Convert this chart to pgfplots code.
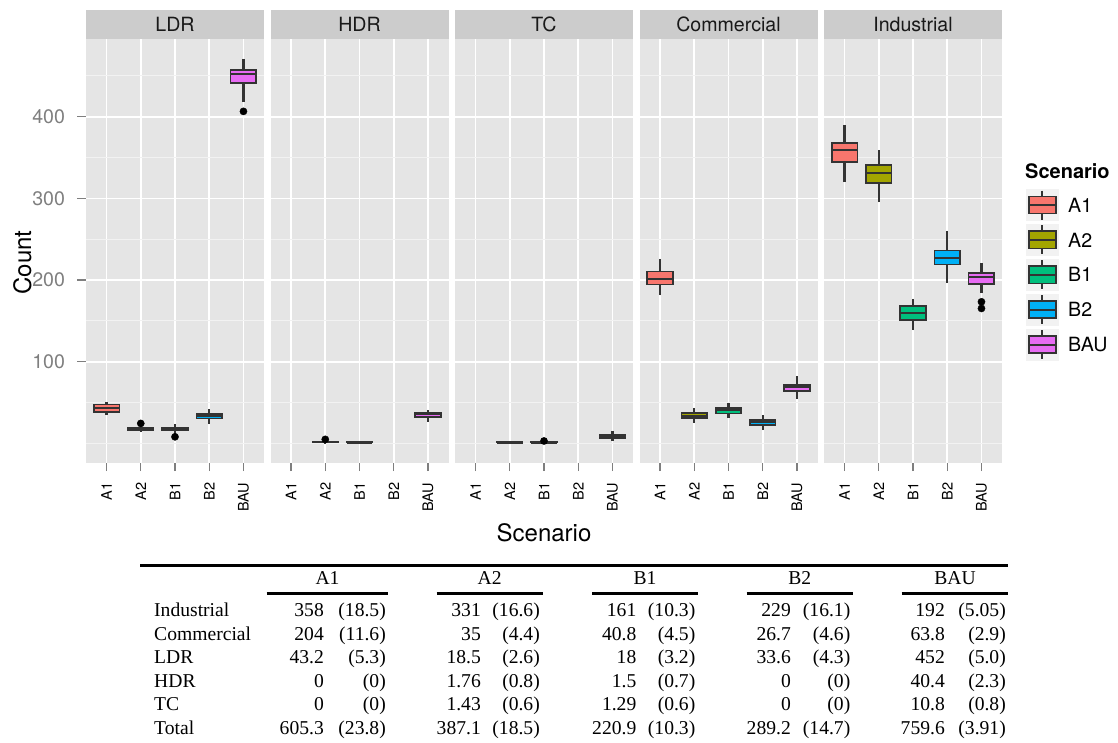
\documentclass[border=0pt]{standalone}
\usepackage{fontspec}
\setmainfont{TeX Gyre Heros}
\newfontfamily\tabfont{Liberation Serif}
\usepackage{pgfplots}
\pgfplotsset{compat=1.18}
\usepgfplotslibrary{statistics}
\definecolor{cA1}{HTML}{F8766D}
\definecolor{cA2}{HTML}{A3A500}
\definecolor{cB1}{HTML}{00BF7D}
\definecolor{cB2}{HTML}{00B0F6}
\definecolor{cBAU}{HTML}{E76BF3}
\definecolor{boxline}{HTML}{333333}
\definecolor{panelbg}{HTML}{E5E5E5}
\definecolor{stripbg}{HTML}{CCCCCC}
\definecolor{gridminor}{HTML}{F2F2F2}
\definecolor{tickgray}{HTML}{7F7F7F}
\definecolor{keybg}{HTML}{F2F2F2}
\newcommand{\bigsz}{\fontsize{19.6}{22}\selectfont}
\newcommand{\ttlsz}{\fontsize{24}{26}\selectfont}
\pgfplotsset{
  panel/.style={
    scale only axis, width=178pt, height=423.7pt,
    xmin=0.4, xmax=5.6, ymin=-23.6, ymax=495.2,
    axis background/.style={fill=panelbg},
    axis line style={draw=none},
    xtick={1,2,3,4,5}, xticklabels={A1,A2,B1,B2,BAU},
    ytick={100,200,300,400}, minor ytick={0,50,150,250,350,450},
    xmajorgrids, ymajorgrids, yminorgrids,
    major grid style={draw=white, line width=1.7pt},
    minor grid style={draw=gridminor, line width=0.9pt},
    xtick pos=bottom, ytick pos=left,
    tick align=outside, major tick length=8.5pt, minor tick length=0pt,
    tick style={draw=tickgray, line width=1.3pt},
    xticklabel style={yshift=-8pt, rotate=90, anchor=east, font=\fontsize{14.5}{15}\selectfont, text=black},
    /pgf/number format/assume math mode=true,
    yticklabel style={xshift=-9pt, font=\bigsz, text=tickgray},
    boxplot/draw direction=y,
    boxplot/box extend=0.75, boxplot/whisker extend=0,
    boxplot/every median/.style={draw=boxline, line width=1.9pt},
    boxplot/every whisker/.style={draw=boxline, line width=2.2pt},
    boxplot/every box/.style={draw=boxline, line width=1.7pt},
    clip=false,
  },
  noy/.style={yticklabels={}, ytick style={draw=none}},
  bx/.style={draw=boxline, line width=1.7pt, solid, mark=none},
  outl/.style={only marks, mark=*, mark size=3.6pt, mark options={draw=black, fill=black}},
}
\begin{document}
\begin{tikzpicture}
\useasboundingbox (0pt,0pt) rectangle (1118pt,-742pt);

% ---------- LDR ----------
\begin{axis}[panel, at={(86pt,-462.7pt)}, anchor=south west]
\addplot[bx, fill=cA1, boxplot prepared={draw position=1, lower whisker=34.3, lower quartile=38.3, median=42.9, upper quartile=47.8, upper whisker=50.9}] coordinates {};
\addplot[bx, fill=cA2, boxplot prepared={draw position=2, lower whisker=14, lower quartile=16.3, median=18, upper quartile=19.6, upper whisker=22.5}] coordinates {};
\addplot[outl] coordinates {(2,24.5)};
\addplot[bx, fill=cB1, boxplot prepared={draw position=3, lower whisker=12, lower quartile=16, median=18, upper quartile=19.5, upper whisker=23.3}] coordinates {};
\addplot[outl] coordinates {(3,8.1)};
\addplot[bx, fill=cB2, boxplot prepared={draw position=4, lower whisker=23.6, lower quartile=30.4, median=33.1, upper quartile=35.7, upper whisker=42}] coordinates {};
\addplot[bx, fill=cBAU, boxplot prepared={draw position=5, lower whisker=418.4, lower quartile=441.4, median=452.3, upper quartile=457.4, upper whisker=471}] coordinates {};
\addplot[outl] coordinates {(5,406.6)};
\end{axis}

% ---------- HDR ----------
\begin{axis}[panel, noy, at={(270.5pt,-462.7pt)}, anchor=south west]
\addplot[bx, fill=cA2, boxplot prepared={draw position=2, lower whisker=0, lower quartile=1, median=2, upper quartile=2, upper whisker=3}] coordinates {};
\addplot[outl] coordinates {(2,5)};
\addplot[bx, fill=cB1, boxplot prepared={draw position=3, lower whisker=0, lower quartile=1, median=1, upper quartile=2, upper whisker=3}] coordinates {};
\addplot[bx, fill=cBAU, boxplot prepared={draw position=5, lower whisker=26.5, lower quartile=32, median=35.5, upper quartile=37, upper whisker=41.2}] coordinates {};
\end{axis}

% ---------- TC ----------
\begin{axis}[panel, noy, at={(455pt,-462.7pt)}, anchor=south west]
\addplot[bx, fill=cA2, boxplot prepared={draw position=2, lower whisker=0, lower quartile=1, median=1, upper quartile=2, upper whisker=3}] coordinates {};
\addplot[bx, fill=cB1, boxplot prepared={draw position=3, lower whisker=0, lower quartile=1, median=1, upper quartile=2, upper whisker=2}] coordinates {};
\addplot[outl] coordinates {(3,3)};
\addplot[bx, fill=cBAU, boxplot prepared={draw position=5, lower whisker=3.2, lower quartile=6.3, median=8.6, upper quartile=10.4, upper whisker=15.1}] coordinates {};
\end{axis}

% ---------- Commercial ----------
\begin{axis}[panel, noy, at={(639.5pt,-462.7pt)}, anchor=south west]
\addplot[bx, fill=cA1, boxplot prepared={draw position=1, lower whisker=181.3, lower quartile=194.5, median=201.6, upper quartile=210.4, upper whisker=226.1}] coordinates {};
\addplot[bx, fill=cA2, boxplot prepared={draw position=2, lower whisker=25.2, lower quartile=30.8, median=33.8, upper quartile=37, upper whisker=43.6}] coordinates {};
\addplot[bx, fill=cB1, boxplot prepared={draw position=3, lower whisker=31.4, lower quartile=36.5, median=40.4, upper quartile=43.8, upper whisker=49.4}] coordinates {};
\addplot[bx, fill=cB2, boxplot prepared={draw position=4, lower whisker=16.3, lower quartile=22.6, median=26.1, upper quartile=29.1, upper whisker=34.3}] coordinates {};
\addplot[bx, fill=cBAU, boxplot prepared={draw position=5, lower whisker=53.9, lower quartile=64.2, median=68.6, upper quartile=71.6, upper whisker=82.4}] coordinates {};
\end{axis}

% ---------- Industrial ----------
\begin{axis}[panel, noy, at={(824pt,-462.7pt)}, anchor=south west]
\addplot[bx, fill=cA1, boxplot prepared={draw position=1, lower whisker=320.4, lower quartile=345, median=359.6, upper quartile=368, upper whisker=390.2}] coordinates {};
\addplot[bx, fill=cA2, boxplot prepared={draw position=2, lower whisker=295.2, lower quartile=319, median=331.4, upper quartile=340.7, upper whisker=359.2}] coordinates {};
\addplot[bx, fill=cB1, boxplot prepared={draw position=3, lower whisker=138.8, lower quartile=151.2, median=160, upper quartile=168, upper whisker=177.1}] coordinates {};
\addplot[bx, fill=cB2, boxplot prepared={draw position=4, lower whisker=196.7, lower quartile=219, median=227.3, upper quartile=236.1, upper whisker=260.4}] coordinates {};
\addplot[bx, fill=cBAU, boxplot prepared={draw position=5, lower whisker=183.7, lower quartile=194.9, median=204, upper quartile=208.4, upper whisker=220.5}] coordinates {};
\addplot[outl] coordinates {(5,173.4) (5,165.3)};
\end{axis}

\begin{scope}[x=1pt, y=-1pt]
% strips
\foreach \xa/\lab in {86/LDR, 270.5/HDR, 455/TC, 639.5/Commercial, 824/Industrial}{
  \fill[stripbg] (\xa,10) rectangle (\xa+178,39);
  \node[font=\bigsz, text=black!90, inner sep=0pt] at (\xa+89,24.5) {\lab};
}
% axis titles
\node[font=\ttlsz, rotate=90, inner sep=0pt] at (22.5,262.5) {Count};
\node[font=\ttlsz, inner sep=0pt] at (544,533) {Scenario};
% legend
\node[font=\fontsize{20}{22}\selectfont\bfseries, anchor=base west, inner sep=0pt] at (1025,178.5) {Scenario};
\foreach \c/\lab [count=\i from 0] in {cA1/A1, cA2/A2, cB1/B1, cB2/B2, cBAU/BAU}{
  \pgfmathsetmacro\yc{205+34.9*\i}
  \fill[keybg] (1026,\yc-16) rectangle (1058.7,\yc+16);
  \draw[boxline, line width=2pt] (1042.3,\yc-14.5) -- (1042.3,\yc+14.5);
  \filldraw[fill=\c, draw=boxline, line width=1.7pt] (1028.8,\yc-8.6) rectangle (1055.8,\yc+8.6);
  \draw[boxline, line width=1.9pt] (1028.8,\yc) -- (1055.8,\yc);
  \node[anchor=west, inner sep=0pt, font=\bigsz] at (1068,\yc) {\lab};
}
% table
\begin{scope}[every node/.style={font=\tabfont\fontsize{19.6}{22}\selectfont, inner sep=0pt}]
\draw[line width=3.2pt] (140,565.7) -- (1008,565.7);
\foreach \a/\b/\h in {266.7/388.3/A1, 436.7/542.7/A2, 592.3/697.7/B1, 746.7/852.7/B2, 901.7/1008.3/BAU}{
  \draw[line width=2.3pt] (\a,593.5) -- (\b,593.5);
  \node[anchor=base] at ({(\a+\b)/2},584.5) {\h};
}
\foreach \lab [count=\i from 0] in {Industrial,Commercial,LDR,HDR,TC,Total}
  \node[anchor=base west] at (154,616.5+23.5*\i) {\lab};
\foreach \n/\p [count=\i from 0] in {358/18.5,204/11.6,43.2/5.3,0/0,0/0,605.3/23.8}{
  \node[anchor=base east] at (324,616.5+23.5*\i) {\n};
  \node[anchor=base east] at (386,616.5+23.5*\i) {(\p)};
}
\foreach \n/\p [count=\i from 0] in {331/16.6,35/4.4,18.5/2.6,1.76/0.8,1.43/0.6,387.1/18.5}{
  \node[anchor=base east] at (481,616.5+23.5*\i) {\n};
  \node[anchor=base east] at (540,616.5+23.5*\i) {(\p)};
}
\foreach \n/\p [count=\i from 0] in {161/10.3,40.8/4.5,18/3.2,1.5/0.7,1.29/0.6,220.9/10.3}{
  \node[anchor=base east] at (636.5,616.5+23.5*\i) {\n};
  \node[anchor=base east] at (695.5,616.5+23.5*\i) {(\p)};
}
\foreach \n/\p [count=\i from 0] in {229/16.1,26.7/4.6,33.6/4.3,0/0,0/0,289.2/14.7}{
  \node[anchor=base east] at (791,616.5+23.5*\i) {\n};
  \node[anchor=base east] at (850.5,616.5+23.5*\i) {(\p)};
}
\foreach \n/\p [count=\i from 0] in {192/5.05,63.8/2.9,452/5.0,40.4/2.3,10.8/0.8,759.6/3.91}{
  \node[anchor=base east] at (945,616.5+23.5*\i) {\n};
  \node[anchor=base east] at (1006,616.5+23.5*\i) {(\p)};
}
\end{scope}
\end{scope}
\end{tikzpicture}
\end{document}
